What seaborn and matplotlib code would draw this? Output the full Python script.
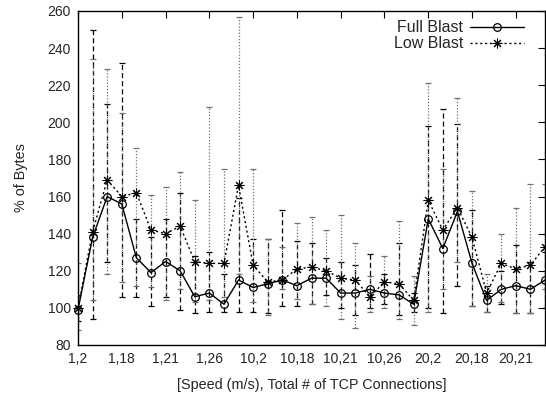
import numpy as np
import pandas as pd
import matplotlib
matplotlib.use("Agg")
import matplotlib.pyplot as plt
import seaborn as sns

# ---- data ----
tick_labels = ["1,2", "1,18", "1,21", "1,26", "10,2", "10,18", "10,21",
               "10,26", "20,2", "20,18", "20,21"]

full_mean = [99, 138, 160, 156, 127, 119, 125, 120, 106, 108, 102, 115, 111,
             113, 115, 112, 116, 116, 108, 108, 110, 108, 107, 102, 148, 132,
             152, 124, 104, 110, 112, 110, 115]
full_low = [93, 94, 125, 106, 106, 101, 106, 99, 97, 98, 98, 98, 98, 97, 101,
            101, 102, 107, 100, 96, 100, 102, 96, 98, 100, 97, 112, 101, 98,
            102, 97, 97, 100]
full_high = [107, 250, 210, 232, 148, 138, 148, 162, 128, 130, 118, 159, 137,
             137, 153, 136, 135, 127, 125, 123, 129, 118, 135, 108, 198, 207,
             199, 153, 112, 120, 134, 125, 130]

low_mean = [100, 141, 169, 160, 162, 142, 140, 144, 125, 124, 124, 166, 123,
            114, 115, 121, 122, 120, 116, 115, 106, 114, 113, 104, 158, 142,
            154, 138, 108, 124, 121, 123, 133]
low_low = [88, 104, 118, 114, 112, 111, 104, 110, 103, 104, 106, 118, 103, 96,
           110, 105, 102, 101, 94, 89, 98, 100, 94, 91, 98, 110, 125, 101, 98,
           103, 97, 97, 110]
low_high = [124, 234, 229, 205, 186, 161, 165, 173, 158, 208, 175, 257, 175,
            137, 133, 146, 149, 142, 150, 135, 117, 128, 147, 117, 221, 175,
            213, 163, 118, 140, 154, 167, 167]

series_names = ["Full Blast", "Low Blast"]

# ---- style ----
sns.set_theme(style="white")
plt.rcParams["font.family"] = ["Liberation Sans", "DejaVu Sans"]
plt.rcParams["xtick.direction"] = "in"
plt.rcParams["ytick.direction"] = "in"

fig = plt.figure(figsize=(5.46, 3.99), dpi=100)
ax = fig.add_axes([78 / 546, 1 - 345 / 399, (545 - 78) / 546, (345 - 11) / 399])

idx = np.arange(len(full_mean))

fm = np.array(full_mean); lm = np.array(low_mean)
e1 = ax.errorbar(idx, fm, yerr=[fm - np.array(full_low), np.array(full_high) - fm],
                 fmt="none", ecolor="black", elinewidth=0.9, capsize=2.2,
                 capthick=0.9, zorder=2)
e1[2][0].set_linestyle((0, (4, 2.5)))
e2 = ax.errorbar(idx, lm, yerr=[lm - np.array(low_low), np.array(low_high) - lm],
                 fmt="none", ecolor="#707070", elinewidth=0.9, capsize=2.2,
                 capthick=0.9, zorder=2)
e2[2][0].set_linestyle((0, (1, 1.5)))

df = pd.DataFrame({
    "idx": np.concatenate([idx, idx]),
    "value": full_mean + low_mean,
    "series": [series_names[0]] * len(idx) + [series_names[1]] * len(idx),
})

sns.lineplot(data=df[df.series == series_names[0]], x="idx", y="value",
             ax=ax, color="black", linewidth=1.0, marker="o",
             markerfacecolor="none", markeredgecolor="black", markersize=5.5,
             markeredgewidth=0.9, label=series_names[0], zorder=3,
             clip_on=False)
sns.lineplot(data=df[df.series == series_names[1]], x="idx", y="value",
             ax=ax, color="black", linewidth=1.0, linestyle=(0, (1.5, 2)),
             marker=(8, 2, 0), markersize=7, markeredgewidth=0.75,
             markeredgecolor="black", label=series_names[1], zorder=3,
             clip_on=False)

ax.set_xlim(0, 32)
ax.set_ylim(80, 260)
ax.set_xticks(np.arange(0, 3 * len(tick_labels), 3))
ax.set_xticklabels(tick_labels, fontsize=10)
ax.set_yticks(np.arange(80, 261, 20))
ax.tick_params(axis="y", labelsize=10)
ax.tick_params(which="both", top=True, right=True, length=5, width=0.8,
               color="black", pad=5)
for s in ax.spines.values():
    s.set_color("black")
    s.set_linewidth(1.0)

ax.set_xlabel("[Speed (m/s), Total # of TCP Connections]", fontsize=10.4,
              labelpad=9)
ax.set_ylabel("% of Bytes", fontsize=10.4, labelpad=14)

leg = ax.legend(loc="upper right", bbox_to_anchor=(0.955, 0.972),
                frameon=False, markerfirst=False,
                fontsize=11.5, handlelength=3.4, borderaxespad=0.0,
                borderpad=0.0, labelspacing=0.05, handletextpad=0.4)

fig.savefig("out.png", dpi=100)
